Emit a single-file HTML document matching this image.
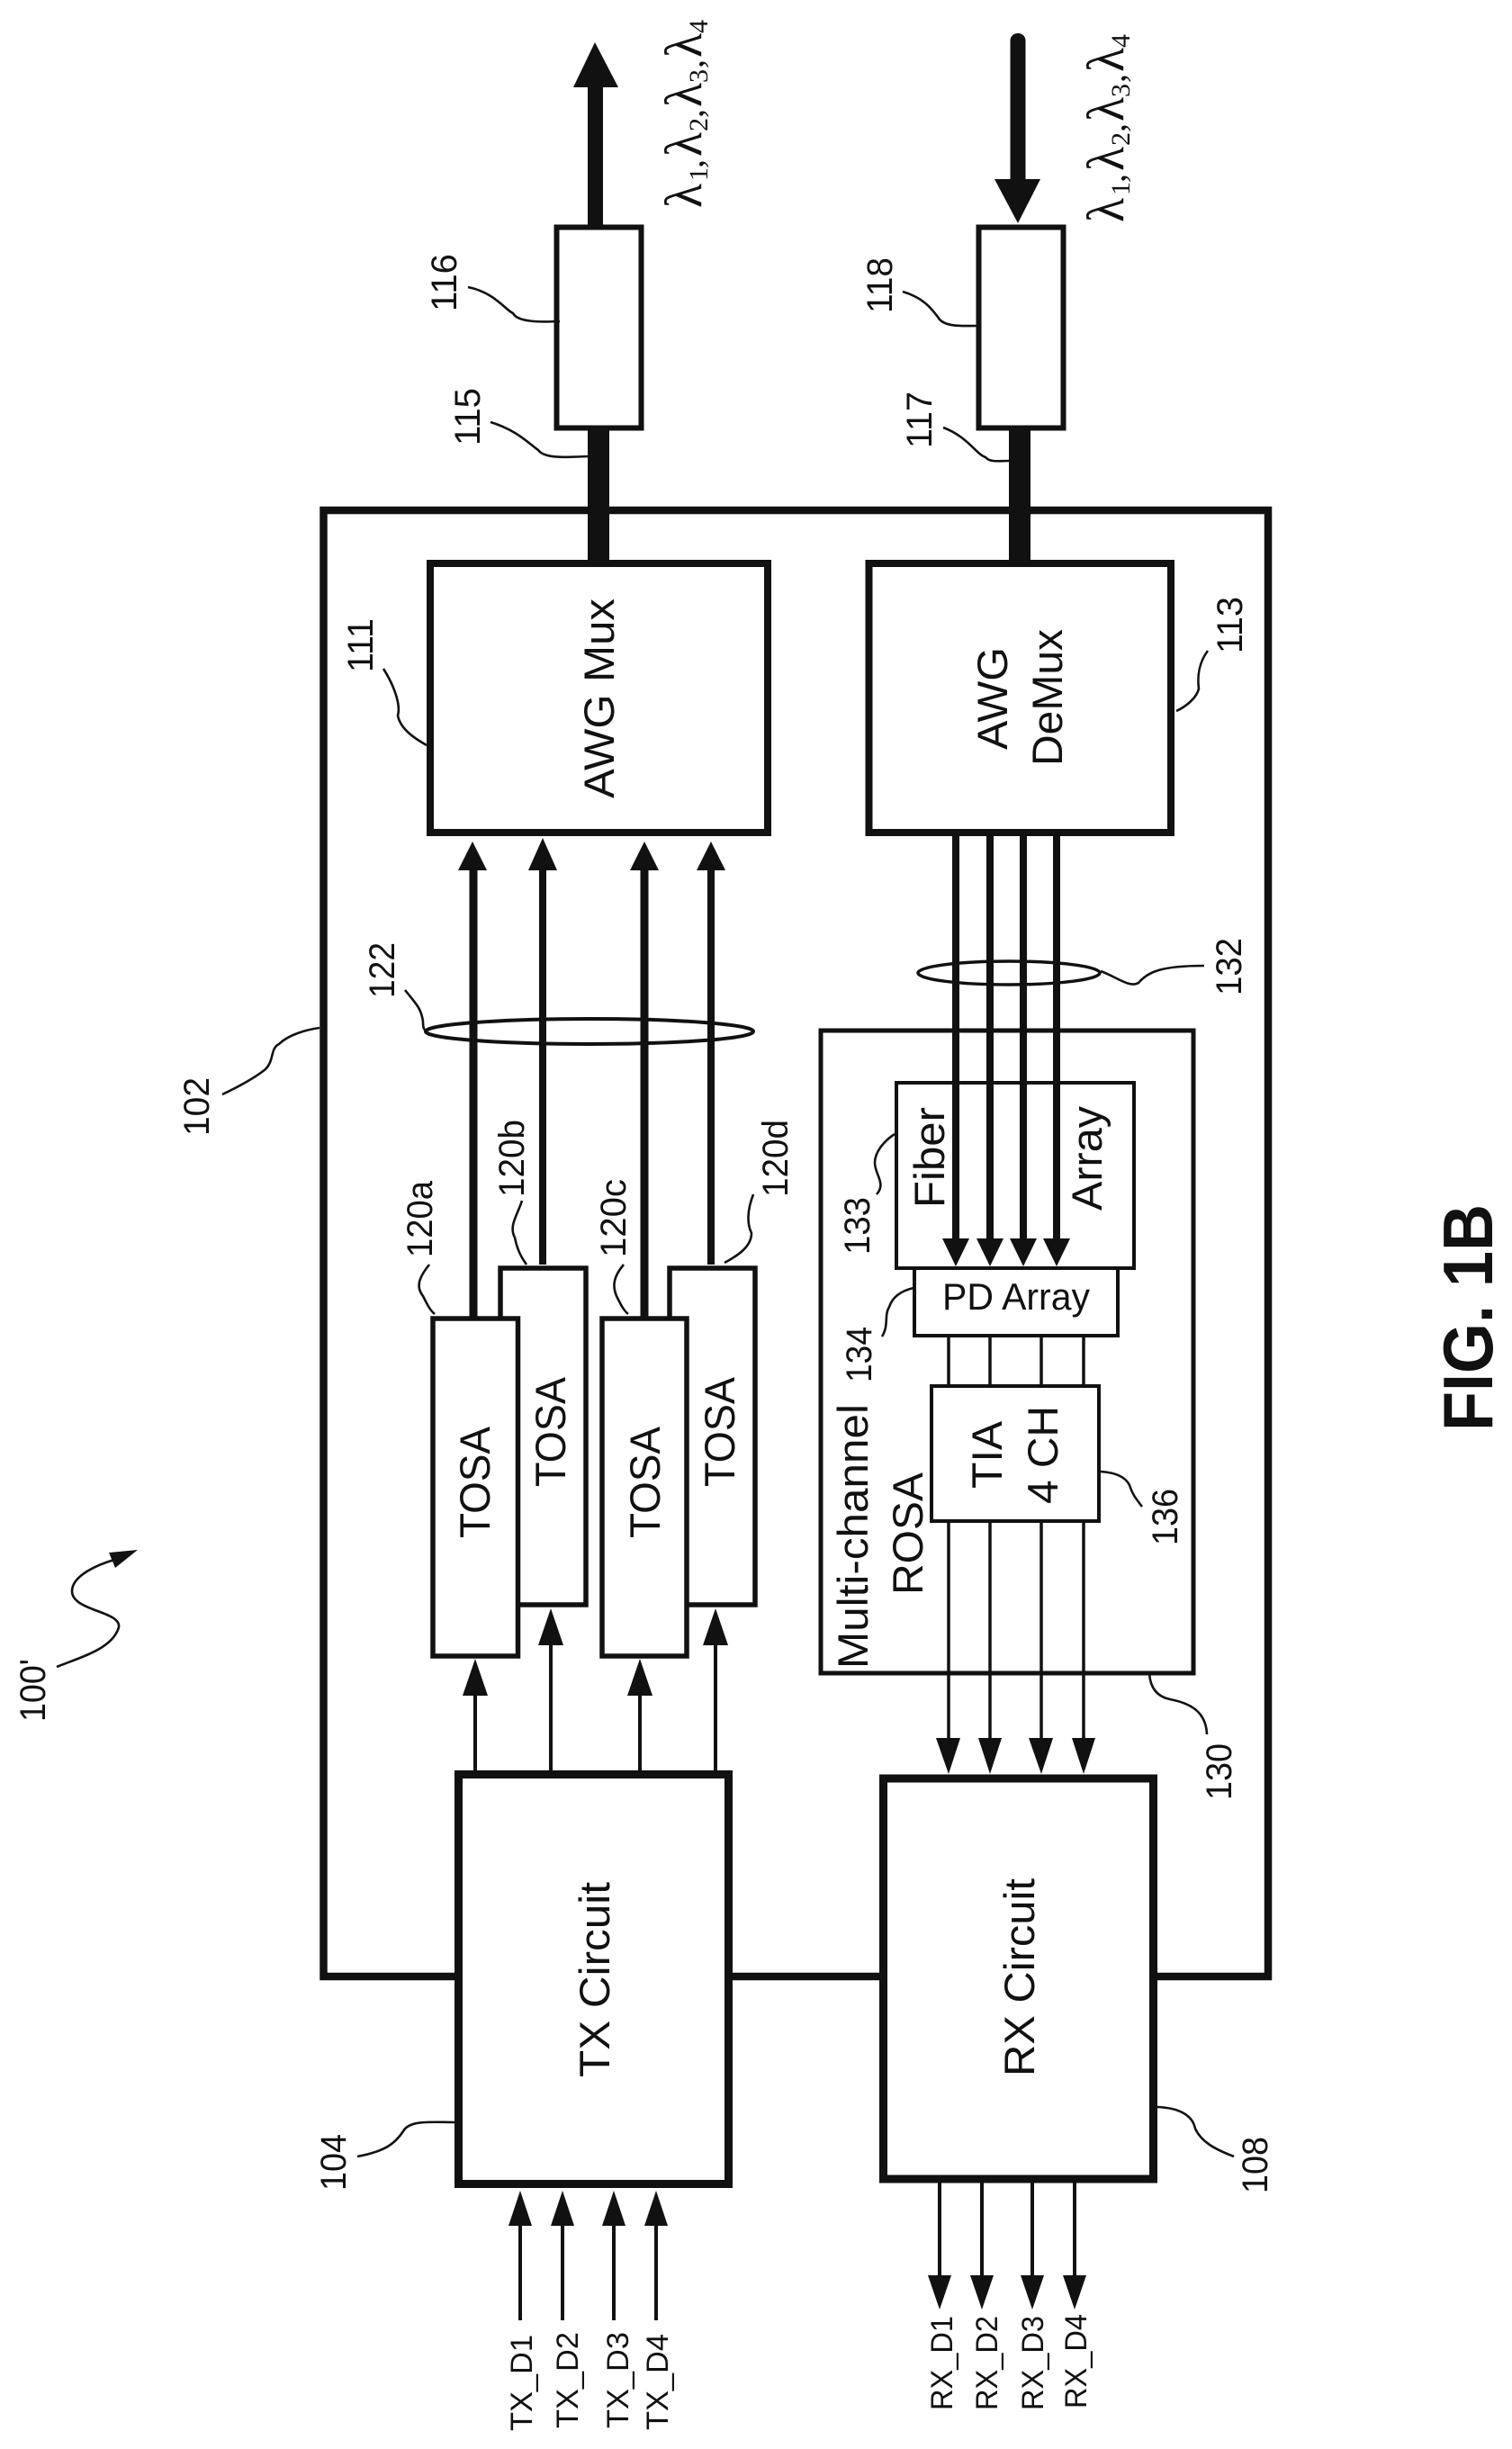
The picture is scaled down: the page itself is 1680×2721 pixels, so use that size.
<!DOCTYPE html>
<html><head><meta charset="utf-8"><style>
html,body{margin:0;padding:0;background:#fff}
svg{display:block}
text{font-family:"Liberation Sans",sans-serif;fill:#111}
.l{font-size:40px}.m{font-size:47px}.s{font-size:34px}
.g{font-family:"Liberation Serif",serif;font-size:58px}.u{font-family:"Liberation Serif",serif;font-size:30px}
.c{font-family:"Liberation Serif",serif;font-size:40px}
.t{fill:none;stroke:#111;stroke-width:2.6}
.w{fill:#fff;stroke:#111}
</style></head><body>
<svg xmlns="http://www.w3.org/2000/svg" width="1680" height="2721" viewBox="0 0 1680 2721">
<rect width="1680" height="2721" fill="#fff"/>
<!-- outer box -->
<rect x="359.5" y="567" width="1049.5" height="1629" fill="none" stroke="#111" stroke-width="8.5"/>
<!-- top arrows and thick lines -->
<rect x="653" y="90" width="17" height="162" fill="#111"/>
<polygon points="661,47 637,97 687,97" fill="#111"/>
<rect x="1122.5" y="37" width="17" height="170" rx="8" fill="#111"/>
<polygon points="1131,248 1105,199 1156,199" fill="#111"/>
<rect x="653" y="477" width="24" height="150" fill="#111"/>
<rect x="1121" y="477" width="24" height="150" fill="#111"/>
<rect x="618.5" y="252.5" width="94" height="223" class="w" stroke-width="6"/>
<rect x="1087.5" y="252.5" width="94" height="223" class="w" stroke-width="6"/>
<!-- AWG -->
<rect x="478" y="626" width="375" height="299" class="w" stroke-width="8"/>
<rect x="965.5" y="626" width="335.5" height="299" class="w" stroke-width="8"/>
<!-- ROSA -->
<rect x="912" y="1145" width="414" height="714" class="w" stroke-width="5"/>
<rect x="996" y="1203" width="264" height="206" class="w" stroke-width="4"/>
<rect x="1016" y="1409" width="226" height="75" class="w" stroke-width="4"/>
<rect x="1035" y="1540" width="186" height="150" class="w" stroke-width="4"/>
<!-- Demux lines -->
<g stroke="#111" stroke-width="8" fill="none">
<line x1="1062" y1="925" x2="1062" y2="1380"/><line x1="1100" y1="925" x2="1100" y2="1380"/>
<line x1="1137" y1="925" x2="1137" y2="1380"/><line x1="1174" y1="925" x2="1174" y2="1380"/>
</g>
<g fill="#111">
<polygon points="1062,1407 1047,1376 1077,1376"/><polygon points="1100,1407 1085,1376 1115,1376"/>
<polygon points="1137,1407 1122,1376 1152,1376"/><polygon points="1174,1407 1159,1376 1189,1376"/>
</g>
<!-- PD->TIA->RX -->
<g stroke="#111" stroke-width="3.5" fill="none">
<line x1="1054" y1="1484" x2="1054" y2="1540"/><line x1="1100" y1="1484" x2="1100" y2="1540"/>
<line x1="1157" y1="1484" x2="1157" y2="1540"/><line x1="1204" y1="1484" x2="1204" y2="1540"/>
<line x1="1054" y1="1690" x2="1054" y2="1935"/><line x1="1100" y1="1690" x2="1100" y2="1935"/>
<line x1="1157" y1="1690" x2="1157" y2="1935"/><line x1="1204" y1="1690" x2="1204" y2="1935"/>
</g>
<g fill="#111">
<polygon points="1054,1971 1040,1931 1067,1931"/><polygon points="1100,1971 1087,1931 1113,1931"/>
<polygon points="1157,1971 1143,1931 1170,1931"/><polygon points="1204,1971 1191,1931 1217,1931"/>
</g>
<!-- TOSA lines -->
<g stroke="#111" fill="none">
<line x1="526" y1="965" x2="526" y2="1468" stroke-width="9"/>
<line x1="603" y1="965" x2="603" y2="1405" stroke-width="8"/>
<line x1="716" y1="965" x2="716" y2="1468" stroke-width="9"/>
<line x1="790" y1="965" x2="790" y2="1405" stroke-width="8"/>
</g>
<g fill="#111">
<polygon points="525,935 509,967 541,967"/><polygon points="603,931 587,967 619,967"/>
<polygon points="716,935 700,967 732,967"/><polygon points="790,935 774,967 806,967"/>
</g>
<ellipse cx="655" cy="1146" rx="182" ry="14" fill="none" stroke="#111" stroke-width="4"/>
<ellipse cx="1121" cy="1081" rx="101" ry="13" fill="none" stroke="#111" stroke-width="3.5"/>
<!-- TOSA boxes -->
<rect x="556" y="1409" width="95" height="374" class="w" stroke-width="5.5"/>
<rect x="744" y="1409" width="95" height="374" class="w" stroke-width="5.5"/>
<rect x="481" y="1465" width="94.5" height="375" class="w" stroke-width="5.5"/>
<rect x="669" y="1465" width="94" height="375" class="w" stroke-width="5.5"/>
<!-- TX/RX circuit -->
<rect x="509.5" y="1971.5" width="300" height="455" class="w" stroke-width="9"/>
<rect x="981.5" y="1976" width="300" height="445" class="w" stroke-width="9"/>
<!-- TX up arrows -->
<g stroke="#111" stroke-width="4" fill="none">
<line x1="528" y1="1967" x2="528" y2="1880"/><line x1="612" y1="1967" x2="612" y2="1825"/>
<line x1="711" y1="1967" x2="711" y2="1880"/><line x1="795" y1="1967" x2="795" y2="1825"/>
<line x1="578" y1="2578" x2="578" y2="2470"/><line x1="625" y1="2578" x2="625" y2="2470"/>
<line x1="682" y1="2578" x2="682" y2="2470"/><line x1="729" y1="2578" x2="729" y2="2470"/>
<line x1="1044" y1="2425" x2="1044" y2="2530"/><line x1="1091" y1="2425" x2="1091" y2="2530"/>
<line x1="1147" y1="2425" x2="1147" y2="2530"/><line x1="1194" y1="2425" x2="1194" y2="2530"/>
</g>
<g fill="#111">
<polygon points="528,1843 514,1884 542,1884"/><polygon points="612,1787 598,1828 626,1828"/>
<polygon points="711,1843 697,1884 725,1884"/><polygon points="795,1787 781,1828 809,1828"/>
<polygon points="578,2434 565,2473 591,2473"/><polygon points="625,2434 612,2473 638,2473"/>
<polygon points="682,2434 669,2473 695,2473"/><polygon points="729,2434 716,2473 742,2473"/>
<polygon points="1044,2566 1031,2528 1057,2528"/><polygon points="1091,2566 1078,2528 1104,2528"/>
<polygon points="1147,2566 1134,2528 1160,2528"/><polygon points="1194,2566 1181,2528 1207,2528"/>
</g>
<!-- leaders -->
<path class="t" d="M520 319 C550 325 562 345 570 348 C575 358 600 358 622 357"/>
<path class="t" d="M545 469 C575 478 590 495 598 500 C605 510 630 508 654 507"/>
<path class="t" d="M1003 324 C1030 332 1038 348 1042 352 C1048 364 1070 362 1086 362"/>
<path class="t" d="M1048 475 C1075 485 1085 505 1095 508 C1100 514 1110 512 1122 512"/>
<path class="t" d="M426 743 C440 765 445 785 442 795 C445 810 460 820 474 828"/>
<path class="t" d="M1342 723 C1333 735 1330 750 1332 765 C1330 775 1318 785 1307 790"/>
<path class="t" d="M450 1100 C462 1115 468 1120 470 1135 C470 1142 471 1145 475 1146"/>
<path class="t" d="M1223 1079 C1240 1085 1255 1098 1265 1092 C1275 1080 1290 1073 1338 1073"/>
<path class="t" d="M477 1405 C465 1420 462 1430 470 1440 C475 1450 478 1456 483 1460"/>
<path class="t" d="M580 1334 C575 1350 565 1362 572 1375 C575 1390 580 1398 585 1405"/>
<path class="t" d="M693 1405 C682 1418 680 1428 685 1440 C690 1450 693 1456 698 1460"/>
<path class="t" d="M837 1327 C830 1345 830 1360 835 1370 C835 1385 820 1395 805 1403"/>
<path class="t" d="M974 1327 C985 1315 972 1305 972 1292 C972 1280 982 1268 994 1260"/>
<path class="t" d="M980 1485 C988 1472 982 1462 988 1452 C992 1440 1002 1434 1015 1431"/>
<path class="t" d="M1269 1674 C1262 1665 1258 1660 1255 1650 C1250 1640 1238 1636 1223 1635"/>
<path class="t" d="M1277 1859 C1278 1875 1285 1885 1300 1888 C1320 1892 1340 1900 1341 1927"/>
<path class="t" d="M397 2396 C430 2390 440 2380 448 2368 C455 2355 480 2358 507 2358"/>
<path class="t" d="M1286 2341 C1310 2342 1325 2350 1328 2365 C1335 2380 1350 2388 1371 2396"/>
<path class="t" d="M247 1216 C270 1205 285 1196 295 1188 C305 1178 300 1165 310 1160 C320 1150 340 1144 355 1142"/>
<path class="t" d="M63 1852 C90 1841 125 1832 132 1808 C135 1790 80 1790 80 1768 C80 1750 110 1738 127 1733"/>
<polygon points="153,1722 121,1725 128,1742" fill="#111"/>
<!-- ref labels -->
<g class="l">
<text transform="translate(507,346) rotate(-90)" textLength="64" lengthAdjust="spacingAndGlyphs">116</text>
<text transform="translate(533,495) rotate(-90)" textLength="64" lengthAdjust="spacingAndGlyphs">115</text>
<text transform="translate(991,348) rotate(-90)" textLength="62" lengthAdjust="spacingAndGlyphs">118</text>
<text transform="translate(1035,498) rotate(-90)" textLength="63" lengthAdjust="spacingAndGlyphs">117</text>
<text transform="translate(414,747) rotate(-90)" textLength="60" lengthAdjust="spacingAndGlyphs">111</text>
<text transform="translate(1380,726) rotate(-90)" textLength="63" lengthAdjust="spacingAndGlyphs">113</text>
<text transform="translate(438,1109) rotate(-90)" textLength="62" lengthAdjust="spacingAndGlyphs">122</text>
<text transform="translate(1379,1106) rotate(-90)" textLength="64" lengthAdjust="spacingAndGlyphs">132</text>
<text transform="translate(480,1397) rotate(-90)" textLength="85" lengthAdjust="spacingAndGlyphs">120a</text>
<text transform="translate(582,1330) rotate(-90)" textLength="86" lengthAdjust="spacingAndGlyphs">120b</text>
<text transform="translate(695,1397) rotate(-90)" textLength="87" lengthAdjust="spacingAndGlyphs">120c</text>
<text transform="translate(875,1330) rotate(-90)" textLength="86" lengthAdjust="spacingAndGlyphs">120d</text>
<text transform="translate(966,1394) rotate(-90)" textLength="64" lengthAdjust="spacingAndGlyphs">133</text>
<text transform="translate(968,1536) rotate(-90)" textLength="62" lengthAdjust="spacingAndGlyphs">134</text>
<text transform="translate(1308,1717) rotate(-90)" textLength="63" lengthAdjust="spacingAndGlyphs">136</text>
<text transform="translate(1368,2000) rotate(-90)" textLength="63" lengthAdjust="spacingAndGlyphs">130</text>
<text transform="translate(384,2434) rotate(-90)" textLength="63" lengthAdjust="spacingAndGlyphs">104</text>
<text transform="translate(1408,2437) rotate(-90)" textLength="63" lengthAdjust="spacingAndGlyphs">108</text>
<text transform="translate(232,1262) rotate(-90)" textLength="65" lengthAdjust="spacingAndGlyphs">102</text>
<text transform="translate(50,1913) rotate(-90)" textLength="70" lengthAdjust="spacingAndGlyphs">100'</text>
</g>
<!-- block text -->
<g class="m">
<text transform="translate(544,1709) rotate(-90)" textLength="124" lengthAdjust="spacingAndGlyphs">TOSA</text>
<text transform="translate(628,1652) rotate(-90)" textLength="122" lengthAdjust="spacingAndGlyphs">TOSA</text>
<text transform="translate(733,1709) rotate(-90)" textLength="124" lengthAdjust="spacingAndGlyphs">TOSA</text>
<text transform="translate(816,1652) rotate(-90)" textLength="122" lengthAdjust="spacingAndGlyphs">TOSA</text>
<text transform="translate(1049,1342) rotate(-90)" textLength="112" lengthAdjust="spacingAndGlyphs">Fiber</text>
<text transform="translate(1224,1345) rotate(-90)" textLength="116" lengthAdjust="spacingAndGlyphs">Array</text>
<text x="1047" y="1455" style="font-size:42px" textLength="164" lengthAdjust="spacingAndGlyphs">PD Array</text>
<text transform="translate(964,1854) rotate(-90)" textLength="294" lengthAdjust="spacingAndGlyphs">Multi-channel</text>
<text transform="translate(1025,1772) rotate(-90)" textLength="136" lengthAdjust="spacingAndGlyphs">ROSA</text>
<text transform="translate(1113,1654) rotate(-90)" textLength="75" lengthAdjust="spacingAndGlyphs">TIA</text>
<text transform="translate(1175,1671) rotate(-90)" textLength="109" lengthAdjust="spacingAndGlyphs">4 CH</text>
<text transform="translate(677,2308) rotate(-90)" textLength="217" lengthAdjust="spacingAndGlyphs">TX Circuit</text>
<text transform="translate(1149,2307) rotate(-90)" textLength="220" lengthAdjust="spacingAndGlyphs">RX Circuit</text>
<text transform="translate(682,887) rotate(-90)" textLength="222" lengthAdjust="spacingAndGlyphs">AWG Mux</text>
<text transform="translate(1119,833) rotate(-90)" textLength="114" lengthAdjust="spacingAndGlyphs">AWG</text>
<text transform="translate(1180,851) rotate(-90)" textLength="152" lengthAdjust="spacingAndGlyphs">DeMux</text>
</g>
<text transform="translate(1658,1590) rotate(-90)" style="font-size:78px;font-weight:bold" textLength="252" lengthAdjust="spacingAndGlyphs">FIG. 1B</text>
<g class="s">
<text transform="translate(591,2701) rotate(-90)" textLength="107" lengthAdjust="spacingAndGlyphs">TX_D1</text>
<text transform="translate(642,2698) rotate(-90)" textLength="107" lengthAdjust="spacingAndGlyphs">TX_D2</text>
<text transform="translate(698,2698) rotate(-90)" textLength="107" lengthAdjust="spacingAndGlyphs">TX_D3</text>
<text transform="translate(742,2700) rotate(-90)" textLength="107" lengthAdjust="spacingAndGlyphs">TX_D4</text>
<text transform="translate(1058,2678) rotate(-90)" textLength="105" lengthAdjust="spacingAndGlyphs">RX_D1</text>
<text transform="translate(1108,2678) rotate(-90)" textLength="105" lengthAdjust="spacingAndGlyphs">RX_D2</text>
<text transform="translate(1159,2678) rotate(-90)" textLength="105" lengthAdjust="spacingAndGlyphs">RX_D3</text>
<text transform="translate(1207,2676) rotate(-90)" textLength="105" lengthAdjust="spacingAndGlyphs">RX_D4</text>
</g>
<!-- lambdas -->
<g>
<text class="g" transform="translate(779,231) rotate(-90)" textLength="27" lengthAdjust="spacingAndGlyphs">λ</text>
<text class="u" transform="translate(786,201) rotate(-90)">1</text>
<text class="c" transform="translate(781,187) rotate(-90)">,</text>
<text class="g" transform="translate(779,174) rotate(-90)" textLength="27" lengthAdjust="spacingAndGlyphs">λ</text>
<text class="u" transform="translate(786,146) rotate(-90)">2</text>
<text class="c" transform="translate(781,131) rotate(-90)">,</text>
<text class="g" transform="translate(779,119) rotate(-90)" textLength="27" lengthAdjust="spacingAndGlyphs">λ</text>
<text class="u" transform="translate(786,92) rotate(-90)">3</text>
<text class="c" transform="translate(781,76) rotate(-90)">,</text>
<text class="g" transform="translate(779,64) rotate(-90)" textLength="27" lengthAdjust="spacingAndGlyphs">λ</text>
<text class="u" transform="translate(786,37) rotate(-90)">4</text>
</g>
<g transform="translate(469,16)">
<text class="g" transform="translate(779,231) rotate(-90)" textLength="27" lengthAdjust="spacingAndGlyphs">λ</text>
<text class="u" transform="translate(786,201) rotate(-90)">1</text>
<text class="c" transform="translate(781,187) rotate(-90)">,</text>
<text class="g" transform="translate(779,174) rotate(-90)" textLength="27" lengthAdjust="spacingAndGlyphs">λ</text>
<text class="u" transform="translate(786,146) rotate(-90)">2</text>
<text class="c" transform="translate(781,131) rotate(-90)">,</text>
<text class="g" transform="translate(779,119) rotate(-90)" textLength="27" lengthAdjust="spacingAndGlyphs">λ</text>
<text class="u" transform="translate(786,92) rotate(-90)">3</text>
<text class="c" transform="translate(781,76) rotate(-90)">,</text>
<text class="g" transform="translate(779,64) rotate(-90)" textLength="27" lengthAdjust="spacingAndGlyphs">λ</text>
<text class="u" transform="translate(786,37) rotate(-90)">4</text>
</g>
</svg>
</body></html>
